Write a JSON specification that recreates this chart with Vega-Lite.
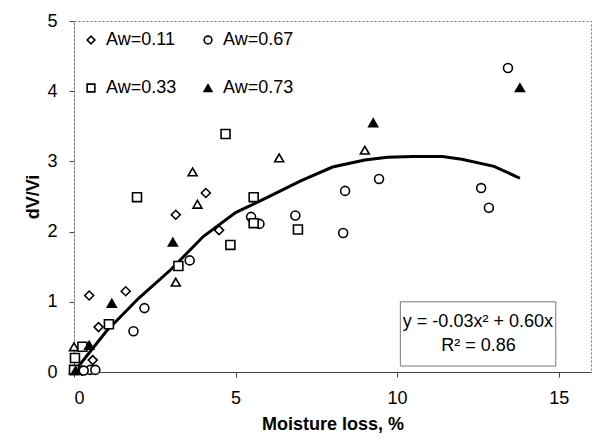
{
  "$schema": "https://vega.github.io/schema/vega-lite/v6.json",
  "width": 517,
  "height": 351,
  "autosize": {"type": "none"},
  "padding": {"left": 74, "top": 21, "right": 14, "bottom": 66},
  "background": "white",
  "config": {
    "font": "Liberation Sans",
    "view": {"stroke": "#777", "strokeDash": [2, 2], "strokeWidth": 1},
    "axis": {
      "grid": false,
      "labelFont": "Liberation Sans",
      "labelFontSize": 18,
      "labelColor": "black",
      "titleFont": "Liberation Sans",
      "titleFontSize": 18,
      "titleFontWeight": "bold",
      "titleColor": "black",
      "tickColor": "#444",
      "domainColor": "#444"
    }
  },
  "datasets": {
    "pts": [
      {"series": "Aw=0.11", "x": 0.47, "y": 1.09},
      {"series": "Aw=0.11", "x": 0.76, "y": 0.64},
      {"series": "Aw=0.11", "x": 1.6, "y": 1.15},
      {"series": "Aw=0.11", "x": 0.58, "y": 0.17},
      {"series": "Aw=0.11", "x": 0.25, "y": 0.02},
      {"series": "Aw=0.11", "x": 3.15, "y": 2.24},
      {"series": "Aw=0.11", "x": 4.08, "y": 2.55},
      {"series": "Aw=0.11", "x": 4.49, "y": 2.02},
      {"series": "Aw=0.67", "x": 3.58, "y": 1.59},
      {"series": "Aw=0.67", "x": 2.18, "y": 0.91},
      {"series": "Aw=0.67", "x": 1.84, "y": 0.58},
      {"series": "Aw=0.67", "x": 0.5, "y": 0.03},
      {"series": "Aw=0.67", "x": 0.66, "y": 0.03},
      {"series": "Aw=0.67", "x": 0.3, "y": 0.02},
      {"series": "Aw=0.67", "x": 5.48, "y": 2.21},
      {"series": "Aw=0.67", "x": 5.74, "y": 2.11},
      {"series": "Aw=0.67", "x": 6.85, "y": 2.23},
      {"series": "Aw=0.67", "x": 8.39, "y": 2.58},
      {"series": "Aw=0.67", "x": 8.33, "y": 1.98},
      {"series": "Aw=0.67", "x": 9.44, "y": 2.75},
      {"series": "Aw=0.67", "x": 13.43, "y": 4.33},
      {"series": "Aw=0.67", "x": 12.6, "y": 2.62},
      {"series": "Aw=0.67", "x": 12.84, "y": 2.34},
      {"series": "Aw=0.33", "x": 4.69, "y": 3.39},
      {"series": "Aw=0.33", "x": 1.95, "y": 2.49},
      {"series": "Aw=0.33", "x": 5.56, "y": 2.49},
      {"series": "Aw=0.33", "x": 4.84, "y": 1.81},
      {"series": "Aw=0.33", "x": 3.23, "y": 1.51},
      {"series": "Aw=0.33", "x": 5.56, "y": 2.12},
      {"series": "Aw=0.33", "x": 6.93, "y": 2.03},
      {"series": "Aw=0.33", "x": 1.08, "y": 0.68},
      {"series": "Aw=0.33", "x": 0.26, "y": 0.36},
      {"series": "Aw=0.33", "x": 0.03, "y": 0.2},
      {"series": "Aw=0.33", "x": 0.0, "y": 0.03},
      {"series": "Aw=0.73", "x": 1.17, "y": 0.98},
      {"series": "Aw=0.73", "x": 0.47, "y": 0.38},
      {"series": "Aw=0.73", "x": 3.06, "y": 1.85},
      {"series": "Aw=0.73", "x": 9.26, "y": 3.55},
      {"series": "Aw=0.73", "x": 13.8, "y": 4.05},
      {"series": "Aw=0.73", "x": 0.05, "y": 0.02},
      {"series": "unlabelled", "x": 3.67, "y": 2.85},
      {"series": "unlabelled", "x": 3.82, "y": 2.39},
      {"series": "unlabelled", "x": 3.15, "y": 1.28},
      {"series": "unlabelled", "x": 6.35, "y": 3.05},
      {"series": "unlabelled", "x": 9.0, "y": 3.16},
      {"series": "unlabelled", "x": 0.0, "y": 0.36},
      {"series": "unlabelled", "x": 0.0, "y": 0.03}
    ],
    "fit": [
      {"x": 0, "y": 0},
      {"x": 1, "y": 0.58},
      {"x": 2, "y": 1.05},
      {"x": 3, "y": 1.46},
      {"x": 4, "y": 1.93},
      {"x": 5, "y": 2.27},
      {"x": 6, "y": 2.49},
      {"x": 7, "y": 2.72},
      {"x": 8, "y": 2.92},
      {"x": 9, "y": 3.02},
      {"x": 9.7, "y": 3.06},
      {"x": 10.5, "y": 3.07},
      {"x": 11.4, "y": 3.07},
      {"x": 12, "y": 3.03},
      {"x": 13, "y": 2.93},
      {"x": 13.8, "y": 2.76}
    ],
    "box": [{"x": 10.1, "x2": 14.91, "y": 1.0, "y2": 0.085}],
    "eq": [
      {"x": 12.5, "y": 0.71, "label": "y = -0.03x² + 0.60x"},
      {"x": 12.52, "y": 0.37, "label": "R² = 0.86"}
    ]
  },
  "layer": [
    {
      "data": {"name": "fit"},
      "mark": {"type": "line", "color": "black", "strokeWidth": 3, "clip": true},
      "encoding": {
        "x": {"field": "x", "type": "quantitative", "scale": {"domain": [0, 15]},
          "axis": {"title": "Moisture loss, %", "values": [0, 5, 10, 15], "format": "d", "tickSize": 5, "labelPadding": 12, "titlePadding": 8}},
        "y": {"field": "y", "type": "quantitative", "scale": {"domain": [0, 5]},
          "axis": {"title": "dV/Vi", "values": [0, 1, 2, 3, 4, 5], "format": "d", "tickSize": 5, "labelPadding": 12, "titlePadding": 4, "domainDash": [2, 2], "domainColor": "#777"}}
      }
    },
    {
      "data": {"name": "pts"},
      "transform": [{"filter": "datum.series === 'unlabelled'"}],
      "mark": {"type": "point", "shape": "triangle-up", "filled": true, "fill": "white", "stroke": "black", "strokeWidth": 1.6, "size": 80, "opacity": 1},
      "encoding": {
        "x": {"field": "x", "type": "quantitative"},
        "y": {"field": "y", "type": "quantitative"}
      }
    },
    {
      "data": {"name": "pts"},
      "transform": [{"filter": "datum.series !== 'unlabelled'"}],
      "mark": {"type": "point", "filled": true, "stroke": "black", "strokeWidth": 1.6, "size": 80, "opacity": 1},
      "encoding": {
        "x": {"field": "x", "type": "quantitative"},
        "y": {"field": "y", "type": "quantitative"},
        "shape": {"field": "series", "type": "nominal",
          "scale": {"domain": ["Aw=0.11", "Aw=0.33", "Aw=0.67", "Aw=0.73"], "range": ["diamond", "square", "circle", "triangle-up"]},
          "legend": {"title": null, "orient": "none", "legendX": 8, "legendY": 10, "columns": 2, "columnPadding": 22, "rowPadding": 30, "labelFontSize": 18, "labelFont": "Liberation Sans", "labelColor": "black", "symbolSize": 60, "symbolStrokeWidth": 1.6, "labelOffset": 6, "values": ["Aw=0.11", "Aw=0.33", "Aw=0.67", "Aw=0.73"]}},
        "fill": {"field": "series", "type": "nominal",
          "scale": {"domain": ["Aw=0.11", "Aw=0.33", "Aw=0.67", "Aw=0.73"], "range": ["white", "white", "white", "black"]},
          "legend": {"title": null, "orient": "none", "legendX": 8, "legendY": 10, "columns": 2, "columnPadding": 22, "rowPadding": 30, "labelFontSize": 18, "labelFont": "Liberation Sans", "labelColor": "black", "symbolSize": 60, "symbolStrokeWidth": 1.6, "labelOffset": 6, "values": ["Aw=0.11", "Aw=0.33", "Aw=0.67", "Aw=0.73"]}}
      }
    },
    {
      "data": {"name": "box"},
      "mark": {"type": "rect", "fill": "white", "stroke": "#777", "strokeWidth": 1},
      "encoding": {
        "x": {"field": "x", "type": "quantitative"},
        "x2": {"field": "x2"},
        "y": {"field": "y", "type": "quantitative"},
        "y2": {"field": "y2"}
      }
    },
    {
      "data": {"name": "eq"},
      "mark": {"type": "text", "font": "Liberation Sans", "fontSize": 18, "color": "black", "align": "center", "baseline": "middle"},
      "encoding": {
        "x": {"field": "x", "type": "quantitative"},
        "y": {"field": "y", "type": "quantitative"},
        "text": {"field": "label"}
      }
    }
  ]
}
